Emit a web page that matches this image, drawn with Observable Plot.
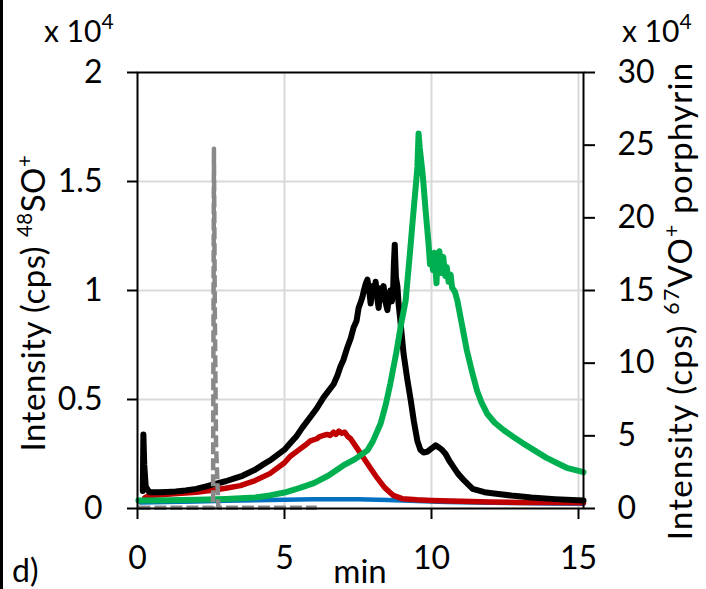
<!DOCTYPE html>
<html><head><meta charset="utf-8">
<script src="https://cdn.jsdelivr.net/npm/d3@7"></script>
<script src="https://cdn.jsdelivr.net/npm/@observablehq/plot@0.6"></script>
<style>
body{margin:0;background:#fff;}
#wrap{position:relative;width:706px;height:589px;overflow:hidden;background:#fff;}
#wrap svg{position:absolute;left:0;top:0;}
#edge{position:absolute;left:0;top:0;width:3px;height:589px;background:#000;z-index:2;}
</style></head><body><div id="wrap"><div id="edge"></div></div>
<script>
// x ticks (min), left axis ticks (x10^4), right axis ticks (x10^4)
const xTicks = [0, 5, 10, 15];
const leftTicks = [0, 0.5, 1, 1.5, 2];
const rightTicks = [0, 5, 10, 15, 20, 25, 30];

// black trace (left axis)
const blackT = [0.18,0.2,0.23,0.28,0.4,0.7,1.0,1.3,1.63,2.0,2.3,2.65,3.0,3.3,3.57,3.8,4.0,4.25,4.5,4.75,5.0,5.2,5.4,5.6,5.88,6.1,6.33,6.5,6.67,6.8,6.9,7.0,7.14,7.25,7.35,7.45,7.52,7.6,7.65,7.7,7.76,7.82,7.88,7.93,8.0,8.05,8.1,8.15,8.2,8.27,8.32,8.37,8.43,8.5,8.55,8.6,8.65,8.69,8.72,8.75,8.79,8.84,8.88,8.95,9.05,9.18,9.29,9.4,9.52,9.62,9.73,9.85,9.95,10.05,10.14,10.25,10.35,10.48,10.6,10.75,10.9,11.1,11.4,11.8,12.2,12.8,13.4,14.2,15.17];
const blackV = [0.08,0.34,0.2,0.1,0.075,0.074,0.076,0.078,0.083,0.09,0.1,0.113,0.125,0.138,0.15,0.165,0.178,0.2,0.22,0.245,0.27,0.3,0.33,0.37,0.42,0.46,0.51,0.54,0.57,0.61,0.65,0.68,0.74,0.78,0.83,0.86,0.92,0.95,0.97,1.0,1.03,1.05,1.0,0.94,1.02,0.98,1.04,0.97,0.92,1.01,0.96,1.02,0.95,0.91,0.97,1.0,0.95,0.98,1.12,1.21,1.06,1.02,0.94,0.85,0.71,0.59,0.5,0.4,0.31,0.27,0.257,0.26,0.27,0.28,0.29,0.28,0.27,0.25,0.22,0.19,0.16,0.13,0.09,0.075,0.068,0.058,0.05,0.043,0.037];

// red trace (left axis)
const redT = [0.25,0.4,0.7,1.0,1.5,2.0,2.6,3.0,3.5,4.0,4.5,5.0,5.2,5.5,5.7,5.88,6.1,6.2,6.33,6.45,6.55,6.67,6.75,6.85,6.95,7.05,7.15,7.25,7.35,7.5,7.6,7.8,8.1,8.4,8.7,9.0,9.5,10,11,12,13,14,15.17];
const redV = [0.05,0.06,0.062,0.065,0.07,0.075,0.085,0.093,0.105,0.128,0.16,0.21,0.24,0.27,0.29,0.31,0.32,0.33,0.335,0.34,0.335,0.35,0.34,0.355,0.345,0.35,0.33,0.32,0.3,0.27,0.25,0.21,0.15,0.097,0.06,0.045,0.04,0.037,0.033,0.03,0.028,0.027,0.026];

// blue trace (left axis)
const blueT = [0.1,1,2,3,4,5,6,7,7.5,8.5,9.5,10.5,11.5,13,14,15.17];
const blueV = [0.028,0.03,0.032,0.035,0.038,0.04,0.042,0.043,0.042,0.039,0.034,0.03,0.027,0.025,0.023,0.022];

// green trace (right axis, x10^4)
const greenT = [0.03,1,2,3,4,4.5,5,5.5,6,6.5,7,7.4,7.82,8.0,8.27,8.45,8.6,8.8,8.95,9.12,9.25,9.39,9.47,9.52,9.56,9.6,9.65,9.7,9.8,9.9,9.95,10.0,10.05,10.1,10.17,10.2,10.27,10.33,10.4,10.47,10.52,10.58,10.65,10.7,10.8,10.88,11.05,11.2,11.38,11.55,11.7,11.9,12.15,12.45,12.8,13.1,13.5,13.9,14.3,14.6,15.17];
const greenR = [0.55,0.56,0.6,0.66,0.76,0.9,1.1,1.4,1.75,2.27,2.96,3.4,4.0,4.6,5.85,7.2,8.6,10.7,12.5,14.3,17.2,20.5,22.3,23.5,25.8,24.8,23.9,23.0,20.5,18.2,16.8,17.2,16.4,17.6,15.5,17.0,17.7,16.2,17.3,16.0,16.6,15.6,16.1,15.2,14.9,14.3,12.5,10.9,9.4,8.1,7.3,6.5,5.9,5.4,4.9,4.5,4.0,3.5,3.1,2.8,2.5];

// gray dashed trace (left axis)
const grayT = [0.03,1.5,2.57,2.6,2.63,2.67,2.75,4,6.1];
const grayV = [0.004,0.004,0.004,1.65,0.9,0.3,0.004,0.004,0.004];

const leftMax = leftTicks[leftTicks.length - 1];
const rightMax = rightTicks[rightTicks.length - 1];
const k = leftMax / rightMax;

const rows = (T, V, f = 1) => T.map((t, i) => ({t, v: V[i] * f}));
const black = rows(blackT, blackV), red = rows(redT, redV), blue = rows(blueT, blueV);
const green = rows(greenT, greenR, k), gray = rows(grayT, grayV);

const chart = Plot.plot({
  width: 706, height: 589,
  marginLeft: 137, marginRight: 123, marginTop: 72, marginBottom: 81,
  style: {fontFamily: "Lato, sans-serif", fontSize: "32px", background: "transparent", color: "#000"},
  x: {domain: [0, 15.17]},
  y: {domain: [0, leftMax]},
  marks: [
    Plot.gridX(xTicks.filter(d => d > 0), {stroke: "#d9d9d9", strokeOpacity: 1, strokeWidth: 2}),
    Plot.gridY(leftTicks.filter(d => d > 0 && d < leftMax), {stroke: "#d9d9d9", strokeOpacity: 1, strokeWidth: 2}),
    Plot.line(blue, {x: "t", y: "v", stroke: "#0070c0", strokeWidth: 4.5}),
    Plot.line(red, {x: "t", y: "v", stroke: "#c00000", strokeWidth: 5.5}),
    Plot.line(black, {x: "t", y: "v", stroke: "#000000", strokeWidth: 6}),
    Plot.line(green, {x: "t", y: "v", stroke: "#00b050", strokeWidth: 6}),
    Plot.line(gray, {x: "t", y: "v", stroke: "#898989", strokeWidth: 4.5, strokeDasharray: "12,4", strokeLinecap: "butt"}),
    Plot.frame({stroke: "#000", strokeWidth: 2}),
    Plot.axisY(leftTicks, {anchor: "left", tickSize: 10, tickPadding: 25, strokeWidth: 2, label: null, tickFormat: d => String(d)}),
    Plot.axisY(rightTicks.map(d => d * k), {anchor: "right", tickSize: 11, tickPadding: 23, strokeWidth: 2, label: null, tickFormat: d => String(Math.round(d / k))}),
    Plot.axisX(xTicks, {anchor: "bottom", tickSize: 11, tickPadding: 27, strokeWidth: 2, label: null, tickFormat: d => String(d)})
  ]
});
document.getElementById("wrap").appendChild(chart);

const svg = d3.select(chart);
const g = svg.append("g").attr("font-family", "Lato, sans-serif").attr("fill", "#000").style("white-space", "pre");
function label(x, y, parts, {rotate = 0, anchor = "start", size = 32, sup = 0.6, raise = 0.38, spacing = 0} = {}) {
  const t = g.append("text")
    .attr("transform", `translate(${x},${y}) rotate(${rotate})`)
    .attr("text-anchor", anchor).attr("font-size", size)
    .attr("letter-spacing", spacing);
  let shift = 0;
  for (const [s, isSup] of parts) {
    const want = isSup ? -raise * size : 0;
    t.append("tspan").attr("dy", want - shift).attr("font-size", isSup ? size * sup : size).text(s);
    shift = want;
  }
}
label(44, 42, [["x 10"], ["4", true]], {size: 30, sup: 0.7, raise: 0.42});
label(622, 42, [["x 10"], ["4", true]], {size: 30, sup: 0.7, raise: 0.42});
label(45, 303, [["Intensity (cps) "], ["48", true], ["SO"], ["+", true]], {rotate: -90, anchor: "middle", size: 33, sup: 0.62, spacing: 0.5});
label(692, 301, [["Intensity (cps) "], ["67", true], ["VO"], ["+", true], [" porphyrin"]], {rotate: -90, anchor: "middle", size: 33, sup: 0.65, spacing: 1.2});
label(360, 583, [["min"]], {anchor: "middle", size: 33});
label(12, 582, [["d)"]], {size: 32});
</script></body></html>
